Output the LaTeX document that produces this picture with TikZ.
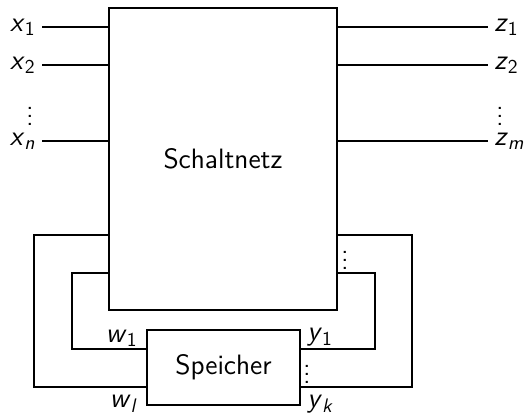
\documentclass[tikz,border=0pt]{standalone}
\usepackage{tikz}
\usetikzlibrary{positioning, calc}
\renewcommand{\familydefault}{\sfdefault}
\newcommand{\sig}[2]{\textit{#1}\textsubscript{#2}}
\tikzset{
  blockBase/.style={
    draw=black, line width=1pt, align=center, font=\fontsize{14}{17}\selectfont,
    inner sep=0pt, fill=white
  },
  blockNetz/.style={blockBase, minimum width=114pt, minimum height=151pt},
  blockSpeicher/.style={blockBase, minimum width=76.5pt, minimum height=37.5pt},
  leitung/.style={line width=1pt, black},
  etikett/.style={inner sep=1pt, font=\fontsize{14}{17}\selectfont},
  etikettRand/.style={etikett, inner sep=3pt},
  punkte/.style={inner sep=0pt, font=\fontsize{13}{16}\selectfont},
}

\begin{document}
\begin{tikzpicture}[x=0.5pt, y=-0.5pt]
    \useasboundingbox (0,0) rectangle (528,415);
    \node[blockNetz] (netz) at (223,159) {Schaltnetz};
    \node[blockSpeicher] (speicher) at (223.5,367.5) {Speicher};
    % Eingaenge
    \node[etikettRand, anchor=east] (x1) at (42,27) {\sig{x}{1}};
    \node[etikettRand, anchor=east] (x2) at (42,65) {\sig{x}{2}};
    \node[etikettRand, anchor=east] (xn) at (42,141) {\sig{x}{\textit{n}}};
    \node[punkte] (xdots) at (30,110) {$\vdots$};
    \draw[leitung] (x1) -- (x1 -| netz.west);
    \draw[leitung] (x2) -- (x2 -| netz.west);
    \draw[leitung] (xn) -- (xn -| netz.west);
    % Ausgaenge
    \node[etikettRand, anchor=west] (z1) at (488,27) {\sig{z}{1}};
    \node[etikettRand, anchor=west] (z2) at (488,65) {\sig{z}{2}};
    \node[etikettRand, anchor=west] (zm) at (488,141) {\sig{z}{\textit{m}}};
    \node[punkte] (zdots) at (500,110) {$\vdots$};
    \draw[leitung] (z1 -| netz.east) -- (z1);
    \draw[leitung] (z2 -| netz.east) -- (z2);
    \draw[leitung] (zm -| netz.east) -- (zm);
    % Rueckkopplung links
    \coordinate (lAussen) at (34,235);
    \coordinate (lInnen) at (72,273);
    \coordinate (w1) at (speicher.west |- 0,349);
    \coordinate (wl) at (speicher.west |- 0,387);
    \draw[leitung] (lAussen -| netz.west) -- (lAussen) |- (wl);
    \draw[leitung] (lInnen -| netz.west) -- (lInnen) |- (w1);
    \node[etikett, anchor=south east] (w1lab) at ([xshift=-3pt]w1) {\sig{w}{1}};
    \node[etikett, anchor=north east] (wllab) at ([xshift=-3pt, yshift=-3pt]wl) {\sig{w}{\textit{l}}};
    % Rueckkopplung rechts
    \coordinate (rAussen) at (412,235);
    \coordinate (rInnen) at (375,273);
    \coordinate (y1) at (speicher.east |- 0,349);
    \coordinate (yk) at (speicher.east |- 0,387);
    \draw[leitung] (rAussen -| netz.east) -- (rAussen) |- (yk);
    \draw[leitung] (rInnen -| netz.east) -- (rInnen) |- (y1);
    \node[etikett, anchor=south west] (y1lab) at ([xshift=2pt]y1) {\sig{y}{1}};
    \node[etikett, anchor=north west] (yklab) at ([xshift=2pt, yshift=-3pt]yk) {\sig{y}{\textit{k}}};
    \node[punkte] (ndots) at (345,254) {$\vdots$};
    \node[punkte] (sdots) at (307,368) {$\vdots$};
  \end{tikzpicture}
\end{document}
